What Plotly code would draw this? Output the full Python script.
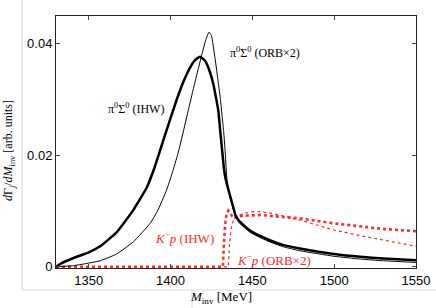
import plotly.graph_objects as go

# pi0 Sigma0 (IHW) - thick black
m_ps_ihw = [1330, 1333, 1340, 1350, 1357, 1367, 1377, 1385.4, 1389.5, 1392, 1396, 1400, 1404,
            1408, 1412, 1415, 1418, 1421, 1424, 1426.2, 1428, 1429.2, 1430.5, 1431.5, 1432.5, 1433.3,
            1434.3, 1435.3, 1437, 1439.8, 1442, 1448.6, 1458.8, 1469, 1479, 1500, 1516, 1530, 1550]
v_ps_ihw = [0, 0.0006, 0.0015, 0.0026, 0.0037, 0.0062, 0.0101, 0.0142, 0.0172, 0.0194, 0.0231, 0.0267, 0.0302,
            0.0333, 0.0358, 0.0371, 0.0377, 0.0370, 0.0350, 0.0327, 0.0300, 0.0280, 0.0240, 0.0210, 0.0180, 0.0163,
            0.0150, 0.0139, 0.0121, 0.0092, 0.0082, 0.0065, 0.0050, 0.0039, 0.0033, 0.0023, 0.0018, 0.0015, 0.0012]

# pi0 Sigma0 (ORBx2) - thin black
m_ps_orb = [1330, 1340, 1346.6, 1357, 1367, 1377.3, 1387.5, 1392, 1397.6, 1401, 1404.5, 1408, 1411, 1414,
            1417, 1419.5, 1421.5, 1423.5, 1425, 1427.2, 1429.2, 1430.5, 1431.5, 1432.4, 1433.3, 1434.3,
            1435.3, 1437, 1439.8, 1442, 1448.6, 1458.8, 1469, 1479, 1500, 1516, 1530, 1550]
v_ps_orb = [0, 0.0002, 0.0005, 0.0011, 0.0023, 0.0045, 0.0078, 0.0100, 0.0138, 0.0168, 0.0203, 0.0245, 0.0283, 0.0320,
            0.0356, 0.0385, 0.0407, 0.0421, 0.0415, 0.0374, 0.0330, 0.0300, 0.0270, 0.0245, 0.0210, 0.0163,
            0.0140, 0.0118, 0.0090, 0.0079, 0.0062, 0.0047, 0.0036, 0.0029, 0.0019, 0.0014, 0.0011, 0.0008]

# K- p (IHW) - thick red dotted
m_kp_ihw = [1330, 1380, 1432, 1432.6, 1433.3, 1434.2, 1435.3, 1436.5, 1438.4, 1441, 1445, 1455,
            1465, 1479, 1500, 1516, 1530, 1550]
v_kp_ihw = [0, 0, 0, 0.004, 0.0075, 0.0094, 0.0101, 0.0097, 0.0087, 0.0090, 0.0092, 0.0093,
            0.0091, 0.0087, 0.0078, 0.0072, 0.0068, 0.0064]

# K- p (ORBx2) - thin red dotted
m_kp_orb = [1330, 1380, 1435.3, 1436, 1437, 1438.5, 1441, 1445, 1450, 1455, 1462, 1479, 1500,
            1516, 1530, 1550]
v_kp_orb = [0, 0, 0, 0.004, 0.0068, 0.0085, 0.0092, 0.0096, 0.0099, 0.0099, 0.0096, 0.0084, 0.0066,
            0.0056, 0.0048, 0.0037]

x_ticks = [1350, 1400, 1450, 1500, 1550]
y_ticks = [0, 0.02, 0.04]
y_ticktext = ["0", "0.02", "0.04"]

RED = "#ff2a2a"
SERIF = "Liberation Serif"

fig = go.Figure()
fig.add_trace(go.Scatter(x=m_kp_orb, y=v_kp_orb, mode="lines",
                         line=dict(color=RED, width=1.2, dash="dot")))
fig.add_trace(go.Scatter(x=m_kp_ihw, y=v_kp_ihw, mode="lines",
                         line=dict(color=RED, width=2.6, dash="dot")))
fig.add_trace(go.Scatter(x=m_ps_orb, y=v_ps_orb, mode="lines",
                         line=dict(color="black", width=1.0, shape="spline", smoothing=0.4)))
fig.add_trace(go.Scatter(x=m_ps_ihw, y=v_ps_ihw, mode="lines",
                         line=dict(color="black", width=2.5, shape="spline", smoothing=0.4)))

axis_common = dict(showline=True, linecolor="#222", linewidth=1, mirror="ticks",
                   ticks="inside", ticklen=4, tickcolor="#444", showgrid=False, zeroline=False,
                   tickfont=dict(family="Liberation Sans", size=13, color="black"))

fig.update_layout(
    width=436, height=308,
    margin=dict(l=56, r=20, t=16, b=40, autoexpand=False),
    paper_bgcolor="white", plot_bgcolor="white",
    showlegend=False,
    xaxis=dict(range=[1330, 1550], tickvals=x_ticks, **axis_common),
    yaxis=dict(range=[-0.0002, 0.045], tickvals=y_ticks, ticktext=y_ticktext, **axis_common),
)

def ann(text, xp, yp, color="black", size=12, angle=0):
    fig.add_annotation(text=text, xref="paper", yref="paper", x=xp, y=yp,
                       showarrow=False, textangle=angle, xanchor="center", yanchor="middle",
                       font=dict(family=SERIF, size=size, color=color))

ann("π<sup>0</sup>Σ<sup>0</sup> (IHW)", 0.2236, 0.6337)
ann("π<sup>0</sup>Σ<sup>0</sup> (ORB×2)", 0.5806, 0.854)
ann("<i>K</i><sup>−</sup><i>p</i> (IHW)", 0.3583, 0.118, color=RED, size=13)
ann("<i>K</i><sup>−</sup><i>p</i> (ORB×2)", 0.6056, 0.0317, color=RED, size=13)
# axis titles
ann("<i>M</i><sub>inv</sub> [MeV]", (221 - 56) / 360, (268 - 297) / 252, size=13)
ann("<i>d</i>Γ<sub><i>j</i></sub>/<i>dM</i><sub>inv</sub> [arb. units]", (9 - 56) / 360, (268 - 151) / 252,
    size=12, angle=-90)

# light frame lines of the original figure
fig.add_shape(type="line", xref="paper", yref="paper", x0=(22 - 56) / 360, x1=(22 - 56) / 360,
              y0=(268 - 0) / 252, y1=(268 - 290) / 252, line=dict(color="#d9d9d9", width=1))
fig.add_shape(type="line", xref="paper", yref="paper", x0=(22 - 56) / 360, x1=(436 - 56) / 360,
              y0=(268 - 290) / 252, y1=(268 - 290) / 252, line=dict(color="#d9d9d9", width=1))
fig.add_shape(type="line", xref="paper", yref="paper", x0=(192 - 56) / 360, x1=(192 - 56) / 360,
              y0=(268 - 290) / 252, y1=(268 - 308) / 252, line=dict(color="#d9d9d9", width=1))

fig.write_html("out.html", config={"displayModeBar": False},
               post_script="document.body.style.margin='0';")
